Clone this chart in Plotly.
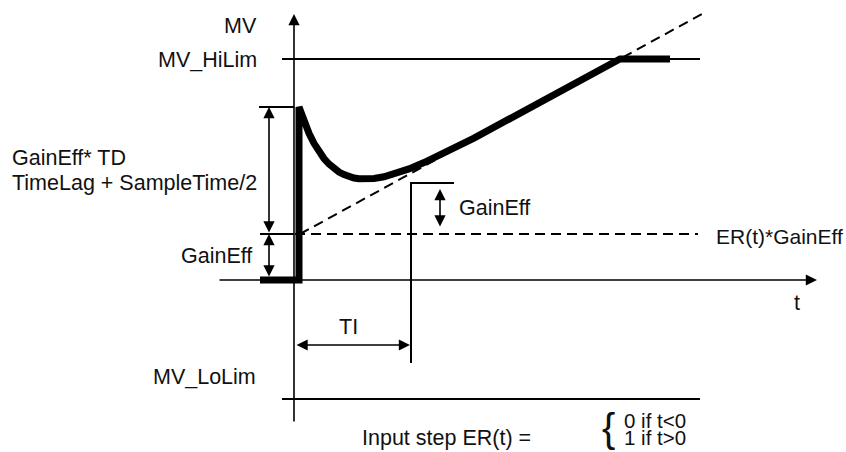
import plotly.graph_objects as go

# ---- diagram values (t = time units, MV = output units) ----
MV_HILIM = 221
MV_LOLIM = -119
GAIN_EFF = 46
KICK_TOP = 173
STEP_TOP = 97
TI = 117

# controller output response
resp_t = [-34, 5, 5, 10, 15, 20, 25, 30, 35, 40, 45, 50, 55, 60, 65, 70, 75, 80,
          90, 100, 115, 130, 150, 180, 326, 376]
resp_mv = [0, 0, 173, 158.7, 146.7, 136.7, 128.4, 121.5, 116.0, 111.5, 108.0, 105.4,
           103.4, 102.0, 101.3, 100.9, 101.0, 101.5, 103.2, 105.9, 111.1, 117.4,
           126.9, 141.9, 221, 221]

# proportional + integral ramp (dashed)
ramp_t = [6, 408]
ramp_mv = [46, 266]

# ER(t)*GainEff level (dashed)
er_t = [1, 404]
er_mv = [46, 46]

# limits
hilim_t = [-12, 406]
lolim_t = [-12, 406]

# input step ER(t) drawn at TI
step_t = [TI, TI, 160]
step_mv = [-83, STEP_TOP, STEP_TOP]

# small level ticks left of MV axis
kick_tick_t = [-35, 0]
gain_tick_t = [-34, 0]

FONT = dict(family="Liberation Sans, Arial, sans-serif", size=21.5, color="#111111")

fig = go.Figure()

def line(x, y, width=2, dash=None):
    fig.add_trace(go.Scatter(x=x, y=y, mode="lines", hoverinfo="skip",
                             line=dict(color="black", width=width, dash=dash)))

line(hilim_t, [MV_HILIM, MV_HILIM])
line(lolim_t, [MV_LOLIM, MV_LOLIM])
line(kick_tick_t, [KICK_TOP, KICK_TOP])
line(gain_tick_t, [GAIN_EFF, GAIN_EFF])
line(er_t, er_mv, width=2, dash="10px,6px")
line(ramp_t, ramp_mv, width=2, dash="10px,6px")
line(step_t, step_mv)
line(resp_t, resp_mv, width=7)

arrows = [
    # (x_tip, y_tip, x_tail, y_tail, double)
    (0, 266, 0, -143, False),        # MV axis
    (523, 0, -76, 0, False),         # t axis
    (-25, KICK_TOP, -25, GAIN_EFF, True),
    (-25, GAIN_EFF, -25, 2, True),
    (146, 91, 146, 52, True),
    (TI - 1, -65, 1, -65, True),
]
annotations = []
for xt, yt, xa, ya, dbl in arrows:
    annotations.append(dict(x=xt, y=yt, ax=xa, ay=ya, xref="x", yref="y",
                            axref="x", ayref="y", text="", showarrow=True,
                            arrowhead=2, arrowsize=1.4, arrowwidth=1.6,
                            arrowcolor="black",
                            arrowside="end+start" if dbl else "end"))

texts = [
    ("MV", -35, 254, "right", 21.5),
    ("MV_HiLim", -35, 220, "right", 21.5),
    ("GainEff* TD", -284, 122, "left", 21.5),
    ("TimeLag + SampleTime/2", -284, 97, "left", 21.5),
    ("GainEff", -40, 24, "right", 21.5),
    ("GainEff", 163, 72, "left", 21.5),
    ("ER(t)*GainEff", 420, 44, "left", 21),
    ("t", 503, -23, "center", 21.5),
    ("TI", 54, -47, "center", 21.5),
    ("MV_LoLim", -36, -97, "right", 21.5),
    ("Input step ER(t) =", 66, -158, "left", 21.5),
    ("0 if t<0", 328, -140, "left", 20.5),
    ("1 if t>0", 328, -157, "left", 20.5),
]
for s, x, y, anc, sz in texts:
    annotations.append(dict(x=x, y=y, xref="x", yref="y", text=s, showarrow=False,
                            xanchor=anc, yanchor="middle",
                            font=dict(FONT, size=sz)))
annotations.append(dict(x=314, y=-148, xref="x", yref="y", text="{", showarrow=False,
                        xanchor="center", yanchor="middle",
                        font=dict(family="Liberation Sans, Arial", size=40, color="#111111")))

fig.update_layout(
    width=846, height=452, margin=dict(l=0, r=0, t=0, b=0),
    paper_bgcolor="white", plot_bgcolor="white", showlegend=False,
    xaxis=dict(range=[-294, 552], visible=False, fixedrange=True),
    yaxis=dict(range=[-172, 280], visible=False, fixedrange=True),
    annotations=annotations,
)
fig.write_html("out.html", config={"displayModeBar": False, "staticPlot": True},
               post_script="document.body.style.margin='0';document.body.style.overflow='hidden';")
